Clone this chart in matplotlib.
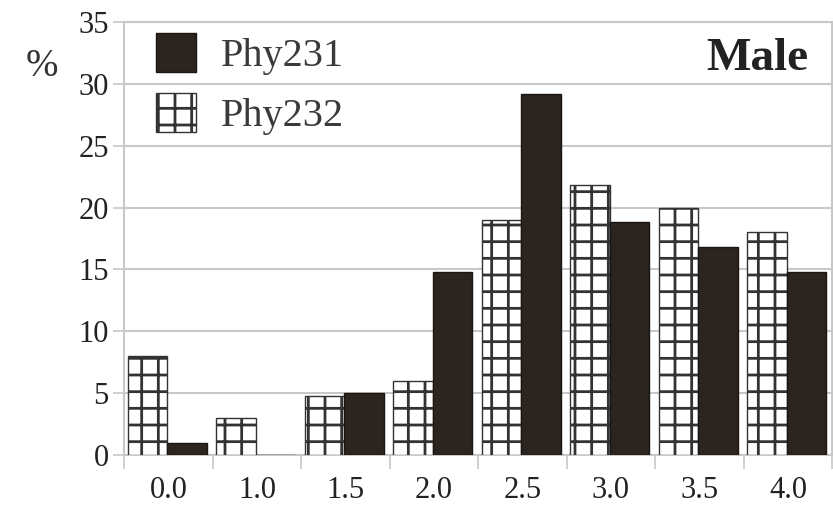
import matplotlib
matplotlib.use("Agg")
import matplotlib.pyplot as plt
import numpy as np

categories = ["0.0", "1.0", "1.5", "2.0", "2.5", "3.0", "3.5", "4.0"]
phy231 = [1.0, 0.0, 5.0, 14.8, 29.2, 18.8, 16.8, 14.8]
phy232 = [8.0, 3.0, 4.8, 6.0, 19.0, 21.8, 20.0, 18.0]
yticks = [0, 5, 10, 15, 20, 25, 30, 35]

plt.rcParams['font.family'] = ['Liberation Serif', 'DejaVu Serif']
plt.rcParams['hatch.linewidth'] = 2.0
plt.rcParams['hatch.color'] = '#1f2a2a'

fig = plt.figure(figsize=(8.33, 5.07), dpi=100)
ax = fig.add_axes([0.149, 0.1026, 0.85, 0.854])

x = np.arange(len(categories))
w = 0.445
dark = '#2b241f'
ax.bar(x - 0.235, phy232, width=w, color='white', edgecolor='#333333',
       linewidth=1.0, hatch='+', label='Phy232', zorder=3)
ax.bar(x + 0.21, phy231, width=w, color=dark, edgecolor='#1a1512',
       linewidth=1.0, label='Phy231', zorder=3)

ax.set_xlim(-0.5, len(categories) - 0.5)
ax.set_ylim(0, 35)
ax.set_yticks(yticks)
ax.set_yticklabels([str(v) for v in yticks], fontsize=22, color='#222222')
ax.set_xticks(np.arange(len(categories) + 1) - 0.5)
ax.set_xticklabels([])
ax.set_xticks(x, minor=True)
ax.set_xticklabels(categories, minor=True, fontsize=22, color='#222222')
ax.tick_params(axis='x', which='minor', length=0, pad=15)
ax.tick_params(axis='x', which='major', length=10, width=1.2, color='#c8c8c8')
ax.tick_params(axis='y', length=8, width=1.2, color='#c8c8c8', pad=3)

ax.yaxis.grid(True, color='#c8c8c8', linewidth=1.5, zorder=0)
ax.set_axisbelow(True)
for s in ax.spines.values():
    s.set_color('#c8c8c8')
    s.set_linewidth(1.5)

h, l = ax.get_legend_handles_labels()
leg = ax.legend([h[1], h[0]], [l[1], l[0]], loc='upper left', frameon=False,
                fontsize=29, handlelength=1.0, handleheight=1.1,
                handletextpad=0.6, labelspacing=0.45,
                bbox_to_anchor=(0.011, 1.03), borderaxespad=0.2)
for t in leg.get_texts():
    t.set_color('#3a3a3a')

fig.text(808 / 833, 1 - 70 / 507, 'Male', ha='right', va='baseline',
         fontsize=34, fontweight='bold', color='#222222')
fig.text(42 / 833, 1 - 66 / 507, '%', ha='center', va='center',
         fontsize=28, color='#333333')

fig.savefig('out.png', dpi=100)
